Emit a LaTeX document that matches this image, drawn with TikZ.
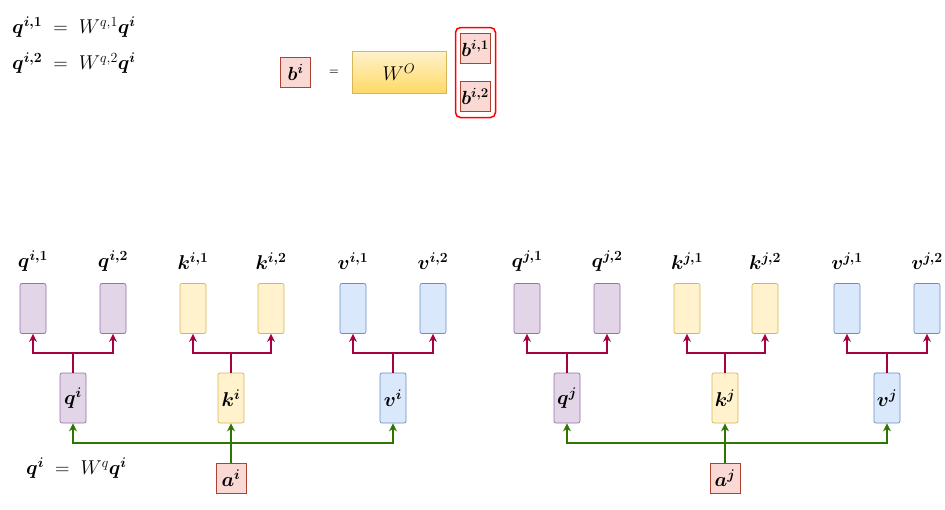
\RequirePackage{fix-cm}
\documentclass[tikz,border=0pt]{standalone}
\usepackage{amsmath,bm}
\usetikzlibrary{calc,arrows.meta}
\definecolor{qfill}{HTML}{E1D5E7}\definecolor{qdraw}{HTML}{9673A6}
\definecolor{kfill}{HTML}{FFF2CC}\definecolor{kdraw}{HTML}{D6B656}
\definecolor{vfill}{HTML}{DAE8FC}\definecolor{vdraw}{HTML}{6C8EBF}
\definecolor{afill}{HTML}{FAD9D5}\definecolor{adraw}{HTML}{AE4132}
\definecolor{crim}{HTML}{A50040}\definecolor{grn}{HTML}{2D7600}
\definecolor{wtop}{HTML}{FFF2CC}\definecolor{wbot}{HTML}{FFD966}
\begin{document}
\begin{tikzpicture}[x=1pt,y=-1pt,
  lab/.style={inner sep=0pt,font=\fontsize{20}{22}\selectfont},
  box/.style={rounded corners=2pt,minimum width=26pt,minimum height=50pt,inner sep=0pt,line width=0.7pt,font=\fontsize{20}{22}\selectfont},
  qbox/.style={box,fill=qfill,draw=qdraw},
  kbox/.style={box,fill=kfill,draw=kdraw},
  vbox/.style={box,fill=vfill,draw=vdraw},
  abox/.style={minimum width=30pt,minimum height=30pt,inner sep=0pt,fill=afill,draw=adraw,line width=0.7pt,font=\fontsize{20}{22}\selectfont},
  sbox/.style={minimum width=30pt,minimum height=30pt,inner sep=0pt,fill=afill,draw=adraw,line width=0.7pt,font=\fontsize{19}{21}\selectfont},
  redline/.style={draw=crim,line width=2pt,-{Stealth[length=8pt,width=8pt,inset=2.5pt]}},
  grnline/.style={draw=grn,line width=2pt,-{Stealth[length=8pt,width=8pt,inset=2.5pt]}},
  grntrunk/.style={grnline,line width=2.8pt}
]
\useasboundingbox (0,0) rectangle (945,509);
% top formulas
\node[lab,anchor=west] (f1) at (12,27) {$\bm{q^{i,1}}\mathrel{\;=\;}W^{q,1}\bm{q^{i}}$};
\node[lab,anchor=west] (f2) at (12,63) {$\bm{q^{i,2}}\mathrel{\;=\;}W^{q,2}\bm{q^{i}}$};
% b^i = W^O [b]
\node[sbox] (bi) at (295.5,72.5) {$\bm{b^{i}}$};
\node[inner sep=0pt,font=\fontsize{11}{13}\selectfont\bfseries] (eq) at (334,72) {=};
\node[minimum width=94pt,minimum height=42pt,inner sep=0pt,top color=wtop,bottom color=wbot,draw=kdraw,line width=0.7pt,font=\fontsize{20}{22}\selectfont] (wo) at (399,72) {$W^{O}$};
\draw[red,line width=1.5pt,rounded corners=5pt] (455.5,27.5) rectangle (495.5,117.5);
\node[sbox] (bi1) at (475,48) {$\bm{b^{i,1}}$};
\node[sbox] (bi2) at (475,96) {$\bm{b^{i,2}}$};
% groups
\foreach \g/\dx in {i/0,j/494}{
  \node[qbox] (q1\g) at (33+\dx,308.5) {};
  \node[qbox] (q2\g) at (113+\dx,308.5) {};
  \node[kbox] (k1\g) at (193+\dx,308.5) {};
  \node[kbox] (k2\g) at (271+\dx,308.5) {};
  \node[vbox] (v1\g) at (353+\dx,308.5) {};
  \node[vbox] (v2\g) at (433+\dx,308.5) {};
  \node[lab] (lq1\g) at (33+\dx,261) {$\bm{q^{\g,1}}$};
  \node[lab] (lq2\g) at (113+\dx,261) {$\bm{q^{\g,2}}$};
  \node[lab] (lk1\g) at (193+\dx,261) {$\bm{k^{\g,1}}$};
  \node[lab] (lk2\g) at (271+\dx,261) {$\bm{k^{\g,2}}$};
  \node[lab] (lv1\g) at (353+\dx,261) {$\bm{v^{\g,1}}$};
  \node[lab] (lv2\g) at (433+\dx,261) {$\bm{v^{\g,2}}$};
  \node[qbox] (q\g) at (73+\dx,398) {$\bm{q^{\g}}$};
  \node[kbox] (k\g) at (231+\dx,398) {$\bm{k^{\g}}$};
  \node[vbox] (v\g) at (393+\dx,398) {$\bm{v^{\g}}$};
  \node[abox] (a\g) at (231+\dx,478) {$\bm{a^{\g}}$};
  \foreach \p in {q,k,v}{
    \draw[redline] (\p\g.north) -- ++(0,-20) -| (\p1\g.south);
    \draw[redline] (\p\g.north) -- ++(0,-20) -| (\p2\g.south);
  }
  \coordinate (s\g) at ($(a\g.north)+(0,-20)$);
  \draw[grnline] (s\g) -| (q\g.south);
  \draw[grnline] (s\g) -| (v\g.south);
  \draw[grntrunk] (a\g.north) -- (k\g.south);
}
\node[lab,anchor=west] (f3) at (26,468) {$\bm{q^{i}}\mathrel{\;=\;}W^{q}\bm{q^{i}}$};
\end{tikzpicture}
\end{document}
